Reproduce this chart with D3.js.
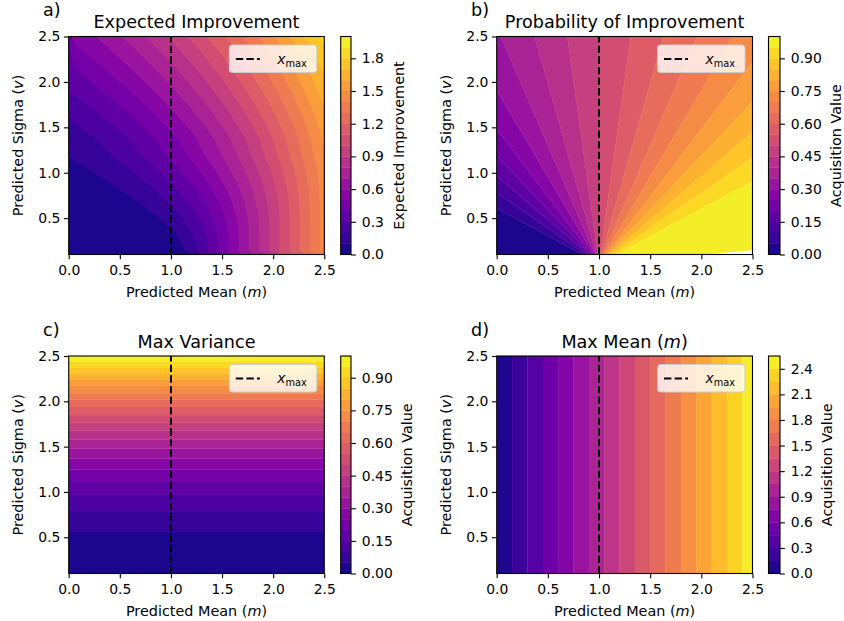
<!DOCTYPE html>
<html>
<head>
<meta charset="utf-8">
<script src="https://cdn.jsdelivr.net/npm/d3@7"></script>
<style>
    body { margin: 0; background: #fff; }
    text { font-family: "DejaVu Sans", sans-serif; fill: #000; }
</style>
</head>
<body>
<svg id="fig" width="844" height="621"></svg>
<script>
(function () {
    "use strict";

    // axis ticks
    var meanTicks = [0, 0.5, 1.0, 1.5, 2.0, 2.5];
    var sigmaTicks = [0.5, 1.0, 1.5, 2.0, 2.5];
    var xMax = 1.0;

    // a) expected improvement, sampled on a grid (rows = sigma, cols = mean)
    var eiMeans = [0, 0.125, 0.25, 0.375, 0.5, 0.625, 0.75, 0.875, 1.0, 1.125, 1.25,
                   1.375, 1.5, 1.625, 1.75, 1.875, 2.0, 2.125, 2.25, 2.375, 2.5];
    var eiSigmas = [0.1, 0.175, 0.25, 0.375, 0.5, 0.625, 0.75, 0.875, 1.0, 1.125,
                    1.25, 1.5, 1.75, 2.0, 2.25, 2.5];
    var eiValues = [
        [0, 0, 0, 0, 0, 0, 0.0002, 0.0051, 0.0399, 0.1301, 0.2502, 0.375, 0.5, 0.625, 0.75, 0.875, 1.0, 1.125, 1.25, 1.375, 1.5],
        [0, 0, 0, 0, 0.0001, 0.0010, 0.0060, 0.0244, 0.0698, 0.1494, 0.2560, 0.3760, 0.5001, 0.625, 0.75, 0.875, 1.0, 1.125, 1.25, 1.375, 1.5],
        [0, 0, 0.0001, 0.0005, 0.0021, 0.0073, 0.0208, 0.0495, 0.0997, 0.1745, 0.2708, 0.3823, 0.5021, 0.6255, 0.7501, 0.875, 1.0, 1.125, 1.25, 1.375, 1.5],
        [0.0005, 0.0012, 0.0032, 0.0074, 0.0159, 0.0312, 0.0567, 0.0953, 0.1496, 0.2203, 0.3067, 0.4062, 0.5159, 0.6324, 0.7532, 0.8762, 1.0005, 1.1251, 1.25, 1.375, 1.5],
        [0.0042, 0.0081, 0.0147, 0.0253, 0.0417, 0.0656, 0.0989, 0.1432, 0.1995, 0.2682, 0.3489, 0.4406, 0.5417, 0.6503, 0.7647, 0.8831, 1.0042, 1.1271, 1.2510, 1.3754, 1.5002],
        [0.0145, 0.0229, 0.0351, 0.0521, 0.0751, 0.1054, 0.1440, 0.1918, 0.2493, 0.3168, 0.3940, 0.4804, 0.5751, 0.6771, 0.7851, 0.8979, 1.0145, 1.1340, 1.2553, 1.3781, 1.5017],
        [0.0318, 0.0451, 0.0625, 0.0850, 0.1133, 0.1484, 0.1907, 0.2408, 0.2992, 0.3658, 0.4407, 0.5234, 0.6133, 0.7100, 0.8125, 0.9201, 1.0318, 1.1470, 1.2649, 1.3850, 1.5064],
        [0.0553, 0.0729, 0.0950, 0.1221, 0.1545, 0.1932, 0.2383, 0.2902, 0.3491, 0.4152, 0.4883, 0.5682, 0.6545, 0.7471, 0.8450, 0.9479, 1.0553, 1.1661, 1.2802, 1.3969, 1.5155],
        [0.0833, 0.1052, 0.1312, 0.1619, 0.1978, 0.2392, 0.2863, 0.3396, 0.3989, 0.4646, 0.5363, 0.6142, 0.6978, 0.7869, 0.8812, 0.9802, 1.0833, 1.1903, 1.3006, 1.4137, 1.5293],
        [0.1153, 0.1406, 0.1700, 0.2039, 0.2424, 0.2860, 0.3348, 0.3891, 0.4488, 0.5141, 0.5848, 0.6610, 0.7424, 0.8289, 0.9200, 1.0156, 1.1153, 1.2187, 1.3256, 1.4354, 1.5477],
        [0.1503, 0.1786, 0.2109, 0.2473, 0.2880, 0.3335, 0.3836, 0.4386, 0.4987, 0.5636, 0.6336, 0.7085, 0.7880, 0.8723, 0.9609, 1.0536, 1.1503, 1.2505, 1.3541, 1.4608, 1.5701],
        [0.2267, 0.2600, 0.2967, 0.3371, 0.3813, 0.4295, 0.4817, 0.5379, 0.5984, 0.6629, 0.7317, 0.8045, 0.8813, 0.9621, 1.0467, 1.1350, 1.2267, 1.3218, 1.4200, 1.5213, 1.6250],
        [0.3091, 0.3462, 0.3864, 0.4298, 0.4765, 0.5268, 0.5803, 0.6375, 0.6981, 0.7625, 0.8303, 0.9018, 0.9765, 1.0548, 1.1364, 1.2212, 1.3091, 1.4001, 1.4943, 1.5908, 1.6901],
        [0.3956, 0.4356, 0.4784, 0.5242, 0.5726, 0.6246, 0.6792, 0.7370, 0.7979, 0.8620, 0.9292, 0.9996, 1.0726, 1.1492, 1.2284, 1.3106, 1.3956, 1.4834, 1.5738, 1.6670, 1.7624],
        [0.4849, 0.5272, 0.5720, 0.6197, 0.6696, 0.7225, 0.7783, 0.8366, 0.8976, 0.9616, 1.0283, 1.0975, 1.1696, 1.2447, 1.3220, 1.4022, 1.4849, 1.5701, 1.6577, 1.7476, 1.8400],
        [0.5760, 0.6203, 0.6670, 0.7158, 0.7673, 0.8210, 0.8773, 0.9360, 0.9974, 1.0610, 1.1273, 1.1960, 1.2673, 1.3408, 1.4170, 1.4953, 1.5760, 1.6590, 1.7445, 1.8318, 1.9218]
    ];
    var eiLevels = [0, 0.1, 0.2, 0.3, 0.4, 0.5, 0.6, 0.7, 0.8, 0.9, 1.0,
                    1.1, 1.2, 1.3, 1.4, 1.5, 1.6, 1.7, 1.8, 1.9, 2.0];
    var eiCbTicks = [0, 0.3, 0.6, 0.9, 1.2, 1.5, 1.8];

    // b) probability of improvement: level boundaries fan out from the apex,
    // each one leaves the frame at (piEdgeM, piEdgeV)
    var piLevels = [0, 0.05, 0.1, 0.15, 0.2, 0.25, 0.3, 0.35, 0.4, 0.45, 0.5,
                    0.55, 0.6, 0.65, 0.7, 0.75, 0.8, 0.85, 0.9, 0.95, 1.0];
    var piApex = [1.0, 0.0];
    var piEdgeM = [0, 0, 0, 0, 0, 0, 0.04, 0.37, 0.69, 1.0,
                   1.31, 1.63, 1.96, 2.31, 2.5, 2.5, 2.5, 2.5, 2.5];
    var piEdgeV = [0.61, 0.78, 0.97, 1.19, 1.48, 1.91, 2.5, 2.5, 2.5, 2.5,
                   2.5, 2.5, 2.5, 2.5, 2.22, 1.78, 1.45, 1.17, 0.91];
    var piBlankEdge = [2.5, 0.15];
    var accCbTicks = [0, 0.15, 0.3, 0.45, 0.6, 0.75, 0.9];

    // c) max variance: horizontal bands, boundaries in sigma
    var varLevels = [0, 0.05, 0.1, 0.15, 0.2, 0.25, 0.3, 0.35, 0.4, 0.45, 0.5,
                     0.55, 0.6, 0.65, 0.7, 0.75, 0.8, 0.85, 0.9, 0.95, 1.0];
    var varEdges = [0.56, 0.79, 0.97, 1.12, 1.25, 1.37, 1.48, 1.58, 1.68, 1.77,
                    1.85, 1.94, 2.02, 2.09, 2.17, 2.24, 2.31, 2.37, 2.44];

    // d) max mean: vertical bands, boundaries in mean
    var meanLevels = [0, 0.15, 0.3, 0.45, 0.6, 0.75, 0.9, 1.05, 1.2, 1.35, 1.5,
                      1.65, 1.8, 1.95, 2.1, 2.25, 2.4, 2.55];
    var meanEdges = [0.15, 0.3, 0.45, 0.6, 0.75, 0.9, 1.05, 1.2, 1.35, 1.5,
                     1.65, 1.8, 1.95, 2.1, 2.25, 2.4];
    var meanCbTicks = [0, 0.3, 0.6, 0.9, 1.2, 1.5, 1.8, 2.1, 2.4];

    var svg = d3.select("#fig");
    var TICK_FS = 13.9, LABEL_FS = 14.4, TITLE_FS = 17.6;

    var cols = [
        { x0: 68.7, x1: 324.3, cb0: 340.7, cb1: 351 },
        { x0: 496.7, x1: 752.5, cb0: 768.5, cb1: 780 }
    ];
    var rows = [
        { y0: 36.5, y1: 254.5 },
        { y0: 356, y1: 573.5 }
    ];

    function bandColor(levels, k) {
        var lo = levels[0], hi = levels[levels.length - 1];
        var mid = (levels[k] + levels[k + 1]) / 2;
        return d3.interpolatePlasma((mid - lo) / (hi - lo));
    }

    function drawEI(g, x, y) {
        var nx = eiMeans.length, ny = eiSigmas.length;
        // pad one extra row/col so the far edges sit inside the grid
        var flat = [];
        for (var j = 0; j <= ny; j++) {
            var r = eiValues[Math.min(j, ny - 1)];
            for (var i = 0; i <= nx; i++) flat.push(r[Math.min(i, nx - 1)]);
        }
        var mIdx = d3.scaleLinear().domain(d3.range(nx)).range(eiMeans);
        var vIdx = d3.scaleLinear().domain(d3.range(ny)).range(eiSigmas);
        var proj = d3.geoTransform({
            point: function (px, py) { this.stream.point(x(mIdx(px)), y(vIdx(py))); }
        });
        var path = d3.geoPath(proj);
        // lowest band fills the whole area, the rest are stacked on top
        g.append("rect")
            .attr("x", x(0)).attr("y", y(2.5))
            .attr("width", x(2.5) - x(0)).attr("height", y(0.1) - y(2.5))
            .attr("fill", bandColor(eiLevels, 0));
        var contours = d3.contours().size([nx + 1, ny + 1])
            .thresholds(eiLevels.slice(1, eiLevels.length - 1))(flat);
        g.selectAll("path.band").data(contours).enter().append("path")
            .attr("class", "band")
            .attr("d", path)
            .attr("fill", function (d, k) { return bandColor(eiLevels, k + 1); })
            .attr("stroke", function (d, k) { return bandColor(eiLevels, k + 1); })
            .attr("stroke-width", 0.4);
    }

    function drawPI(g, x, y) {
        var dirs = [[-1, 0]];
        for (var i = 0; i < piEdgeM.length; i++) {
            dirs.push([piEdgeM[i] - piApex[0], piEdgeV[i] - piApex[1]]);
        }
        dirs.push([piBlankEdge[0] - piApex[0], piBlankEdge[1] - piApex[1]]);
        var far = function (dv) {
            var n = Math.sqrt(dv[0] * dv[0] + dv[1] * dv[1]);
            return [piApex[0] + 30 * dv[0] / n, piApex[1] + 30 * dv[1] / n];
        };
        var wedges = [];
        for (var k = 0; k < piLevels.length - 1; k++) {
            wedges.push([piApex, far(dirs[k]), far(dirs[k + 1])]);
        }
        var line = d3.line().x(function (p) { return x(p[0]); }).y(function (p) { return y(p[1]); });
        g.selectAll("path.band").data(wedges).enter().append("path")
            .attr("class", "band")
            .attr("d", function (w) { return line(w) + "Z"; })
            .attr("fill", function (d, k) { return bandColor(piLevels, k); })
            .attr("stroke", function (d, k) { return bandColor(piLevels, k); })
            .attr("stroke-width", 0.4);
    }

    function drawVar(g, x, y) {
        var edges = [0.1].concat(varEdges, [2.5]);
        var bands = d3.range(edges.length - 1);
        g.selectAll("rect.band").data(bands).enter().append("rect")
            .attr("class", "band")
            .attr("x", x(0))
            .attr("width", x(2.5) - x(0))
            .attr("y", function (k) { return y(edges[k + 1]); })
            .attr("height", function (k) { return y(edges[k]) - y(edges[k + 1]) + 0.3; })
            .attr("fill", function (k) { return bandColor(varLevels, k); });
    }

    function drawMean(g, x, y) {
        var edges = [0].concat(meanEdges, [2.5]);
        var bands = d3.range(edges.length - 1);
        g.selectAll("rect.band").data(bands).enter().append("rect")
            .attr("class", "band")
            .attr("x", function (k) { return x(edges[k]); })
            .attr("width", function (k) { return x(edges[k + 1]) - x(edges[k]) + 0.3; })
            .attr("y", y(2.5))
            .attr("height", y(0.1) - y(2.5))
            .attr("fill", function (k) { return bandColor(meanLevels, k); });
    }

    var panels = [
        { tag: "a)", title: [["Expected Improvement", false]], draw: drawEI, col: 0, row: 0,
          levels: eiLevels, cbTicks: eiCbTicks, cbFmt: ".1f", cbLabel: "Expected Improvement", cbLabelDx: 53 },
        { tag: "b)", title: [["Probability of Improvement", false]], draw: drawPI, col: 1, row: 0,
          levels: piLevels, cbTicks: accCbTicks, cbFmt: ".2f", cbLabel: "Acquisition Value", cbLabelDx: 61 },
        { tag: "c)", title: [["Max Variance", false]], draw: drawVar, col: 0, row: 1,
          levels: varLevels, cbTicks: accCbTicks, cbFmt: ".2f", cbLabel: "Acquisition Value", cbLabelDx: 61 },
        { tag: "d)", title: [["Max Mean (", false], ["m", true], [")", false]], draw: drawMean, col: 1, row: 1,
          levels: meanLevels, cbTicks: meanCbTicks, cbFmt: ".1f", cbLabel: "Acquisition Value", cbLabelDx: 52 }
    ];

    function richText(sel, parts) {
        parts.forEach(function (p) {
            sel.append("tspan").text(p[0]).style("font-style", p[1] ? "italic" : "normal");
        });
    }

    panels.forEach(function (p, idx) {
        var c = cols[p.col], r = rows[p.row];
        var x = d3.scaleLinear().domain([0, 2.5]).range([c.x0, c.x1]);
        var y = d3.scaleLinear().domain([0.1, 2.5]).range([r.y1, r.y0]);
        var g = svg.append("g");

        var clipId = "clip" + idx;
        svg.append("clipPath").attr("id", clipId).append("rect")
            .attr("x", c.x0).attr("y", r.y0)
            .attr("width", c.x1 - c.x0).attr("height", r.y1 - r.y0);
        var plot = g.append("g").attr("clip-path", "url(#" + clipId + ")");
        p.draw(plot, x, y);

        // x_max marker
        plot.append("line")
            .attr("x1", x(xMax)).attr("x2", x(xMax))
            .attr("y1", r.y1).attr("y2", r.y0)
            .attr("stroke", "#000").attr("stroke-width", 2)
            .attr("stroke-dasharray", "7.4,3.2");

        // frame
        g.append("rect")
            .attr("x", c.x0).attr("y", r.y0)
            .attr("width", c.x1 - c.x0).attr("height", r.y1 - r.y0)
            .attr("fill", "none").attr("stroke", "#000").attr("stroke-width", 1.1);

        // axes
        var xa = g.append("g").attr("transform", "translate(0," + r.y1 + ")")
            .call(d3.axisBottom(x).tickValues(meanTicks).tickFormat(d3.format(".1f"))
                .tickSizeOuter(0).tickSize(4.8).tickPadding(6));
        var ya = g.append("g").attr("transform", "translate(" + c.x0 + ",0)")
            .call(d3.axisLeft(y).tickValues(sigmaTicks).tickFormat(d3.format(".1f"))
                .tickSizeOuter(0).tickSize(4.8).tickPadding(3.5));
        [xa, ya].forEach(function (a) {
            a.select(".domain").remove();
            a.attr("font-family", null).attr("font-size", null);
            a.selectAll("line").attr("stroke", "#000").attr("stroke-width", 1.1);
            a.selectAll("text").style("font-size", TICK_FS + "px").attr("fill", "#000");
        });

        var xl = g.append("text")
            .attr("x", (c.x0 + c.x1) / 2).attr("y", r.y1 + 42.2)
            .attr("text-anchor", "middle").style("font-size", LABEL_FS + "px");
        richText(xl, [["Predicted Mean (", false], ["m", true], [")", false]]);

        var yl = g.append("text")
            .attr("transform", "translate(" + (c.x0 - 45.5) + "," + ((r.y0 + r.y1) / 2) + ") rotate(-90)")
            .attr("text-anchor", "middle").style("font-size", LABEL_FS + "px");
        richText(yl, [["Predicted Sigma (", false], ["v", true], [")", false]]);

        var tt = g.append("text")
            .attr("x", (c.x0 + c.x1) / 2).attr("y", r.y0 - 8.5)
            .attr("text-anchor", "middle").style("font-size", TITLE_FS + "px");
        richText(tt, p.title);

        g.append("text")
            .attr("x", c.x0 - 25.7).attr("y", r.y0 - 20.5)
            .style("font-size", TITLE_FS + "px")
            .text(p.tag);

        // legend
        var lx = c.x1 - 95, ly = r.y0 + 8.5;
        var lg = g.append("g");
        lg.append("rect")
            .attr("x", lx).attr("y", ly).attr("width", 87.5).attr("height", 27.5)
            .attr("rx", 3).attr("ry", 3)
            .attr("fill", "#fff").attr("fill-opacity", 0.8)
            .attr("stroke", "#cccccc").attr("stroke-width", 1);
        lg.append("line")
            .attr("x1", lx + 6.5).attr("x2", lx + 30.5)
            .attr("y1", ly + 14).attr("y2", ly + 14)
            .attr("stroke", "#000").attr("stroke-width", 2)
            .attr("stroke-dasharray", "7.4,3.2");
        var lt = lg.append("text").attr("x", lx + 48).attr("y", ly + 18.5)
            .style("font-size", TICK_FS + "px");
        lt.append("tspan").text("x").style("font-style", "italic");
        lt.append("tspan").text("max").attr("dy", 3).style("font-size", "9.8px");

        // colorbar
        var lv = p.levels;
        var cy = d3.scaleLinear().domain([lv[0], lv[lv.length - 1]]).range([r.y1, r.y0]);
        var cb = g.append("g");
        cb.selectAll("rect.cband").data(d3.range(lv.length - 1)).enter().append("rect")
            .attr("class", "cband")
            .attr("x", c.cb0).attr("width", c.cb1 - c.cb0)
            .attr("y", function (k) { return cy(lv[k + 1]); })
            .attr("height", function (k) { return cy(lv[k]) - cy(lv[k + 1]) + 0.3; })
            .attr("fill", function (k) { return bandColor(lv, k); });
        cb.append("rect")
            .attr("x", c.cb0).attr("y", r.y0)
            .attr("width", c.cb1 - c.cb0).attr("height", r.y1 - r.y0)
            .attr("fill", "none").attr("stroke", "#000").attr("stroke-width", 1.1);
        var ca = cb.append("g").attr("transform", "translate(" + c.cb1 + ",0)")
            .call(d3.axisRight(cy).tickValues(p.cbTicks).tickFormat(d3.format(p.cbFmt))
                .tickSizeOuter(0).tickSize(4.8).tickPadding(6));
        ca.select(".domain").remove();
        ca.attr("font-family", null).attr("font-size", null);
        ca.selectAll("line").attr("stroke", "#000").attr("stroke-width", 1.1);
        ca.selectAll("text").style("font-size", TICK_FS + "px").attr("fill", "#000");

        cb.append("text")
            .attr("transform", "translate(" + (c.cb1 + p.cbLabelDx) + "," + ((r.y0 + r.y1) / 2) + ") rotate(-90)")
            .attr("text-anchor", "middle").style("font-size", LABEL_FS + "px")
            .text(p.cbLabel);
    });
})();
</script>
</body>
</html>
